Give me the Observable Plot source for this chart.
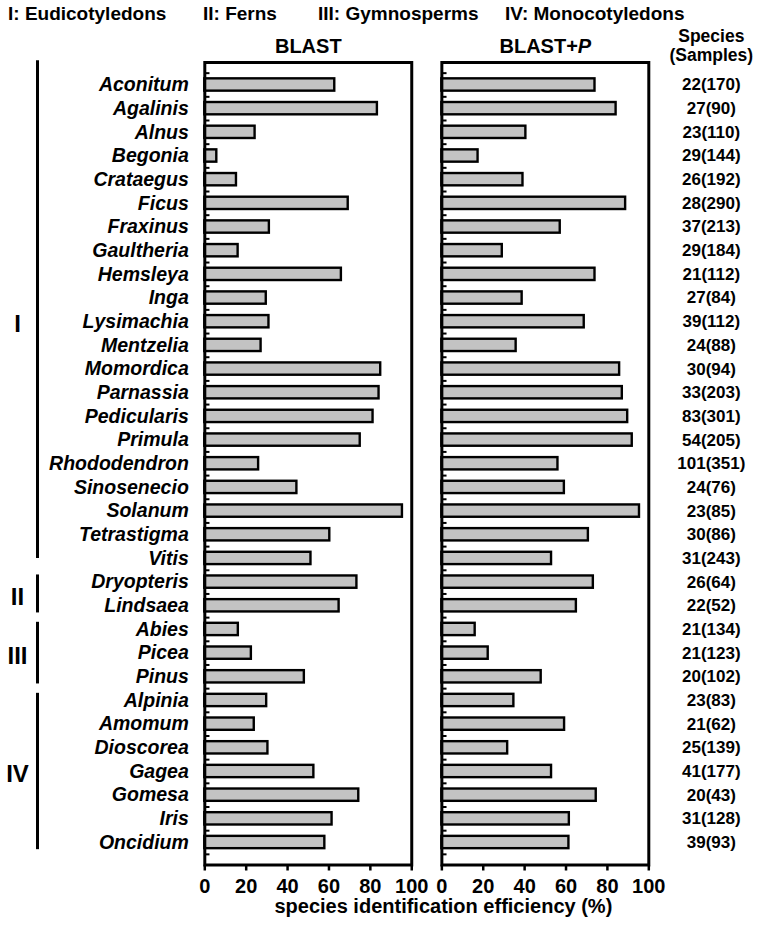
<!DOCTYPE html>
<html><head><meta charset="utf-8">
<script src="https://cdn.jsdelivr.net/npm/d3@7"></script>
<script src="https://cdn.jsdelivr.net/npm/@observablehq/plot@0.6"></script>
<style>
body{margin:0;background:#fff;font-family:"Liberation Sans",Arial,Helvetica,sans-serif;}
#legend{position:relative;height:30px;width:763px;font-weight:bold;font-size:19px;color:#000;}
#legend span{position:absolute;top:3px;white-space:nowrap;}
</style></head><body>
<div id="legend"></div>
<div id="chart"></div>
<script>
const genera = ["Aconitum","Agalinis","Alnus","Begonia","Crataegus","Ficus","Fraxinus","Gaultheria","Hemsleya","Inga","Lysimachia","Mentzelia","Momordica","Parnassia","Pedicularis","Primula","Rhododendron","Sinosenecio","Solanum","Tetrastigma","Vitis","Dryopteris","Lindsaea","Abies","Picea","Pinus","Alpinia","Amomum","Dioscorea","Gagea","Gomesa","Iris","Oncidium"];
const blast = [62.8,83.4,24.3,5.8,15.3,69.3,31.2,16.1,66.0,29.7,31.0,27.2,85.0,84.2,81.3,75.1,26.0,44.5,95.5,60.4,51.3,73.5,64.9,16.2,22.5,48.1,29.9,23.9,30.5,52.7,74.4,61.5,58.0];
const blastP = [74.0,84.2,40.6,17.5,39.2,88.8,57.2,29.2,74.0,38.8,68.8,35.9,85.9,87.2,89.8,92.0,56.1,59.2,95.5,70.8,53.0,73.2,65.0,16.1,22.4,48.0,34.8,59.3,31.8,53.0,74.6,61.6,61.4];
const species = [22,27,23,29,26,28,37,29,21,27,39,24,30,33,83,54,101,24,23,30,31,26,22,21,21,20,23,21,25,41,20,31,39];
const samples = [170,90,110,144,192,290,213,184,112,84,112,88,94,203,301,205,351,76,85,86,243,64,52,134,123,102,83,62,139,177,43,128,93];
const methods = ["BLAST","BLAST+P"];
const groupLabels = ["I","II","III","IV"];
const groupNames = ["Eudicotyledons","Ferns","Gymnosperms","Monocotyledons"];
const groupFirst = ["Aconitum","Dryopteris","Abies","Alpinia"];
const groupLast = ["Vitis","Lindsaea","Pinus","Oncidium"];
const xTicks = [0,20,40,60,80,100];
const xLabel = "species identification efficiency (%)";
const colHeader = ["Species","(Samples)"];

// legend line (above the SVG)
const legendX = [8, 203, 318, 505];
const legend = document.getElementById("legend");
groupLabels.forEach((g,i)=>{
  const s=document.createElement("span");
  s.textContent = `${g}: ${groupNames[i]}`;
  s.style.left = legendX[i]+"px";
  legend.appendChild(s);
});

const rows = genera.flatMap((g,i)=>[
  {genus:g, method:methods[0], value:blast[i]},
  {genus:g, method:methods[1], value:blastP[i]}
]);
const leftRows = genera.map((g)=>({genus:g, method:methods[0]}));
const rightRows = genera.map((g,i)=>({genus:g, method:methods[1], text:`${species[i]}(${samples[i]})`}));
const groups = groupLabels.map((g,i)=>{
  const a = genera.indexOf(groupFirst[i]), b = genera.indexOf(groupLast[i]);
  const mid = (a+b)/2;
  return {label:g, first:groupFirst[i], last:groupLast[i], mid:genera[Math.floor(mid)], half: mid%1!==0, method:methods[0]};
});

const W=763, H=898, mTop=32, mBottom=63.5, mLeft=204.3, mRight=114.7;
const pi=0.48, po=0.69;
const step = (H-mTop-mBottom)/(genera.length - pi + 2*po);

const chart = Plot.plot({
  width: W, height: H,
  marginTop: mTop, marginBottom: mBottom, marginLeft: mLeft, marginRight: mRight,
  style: {fontFamily: "'Liberation Sans', Arial, Helvetica, sans-serif", fontWeight: "bold", color: "black", background: "white", overflow: "visible"},
  fx: {domain: methods, paddingInner: 0.127, paddingOuter: 0, round: false, axis: null, label: null},
  x: {domain: [0,100]},
  y: {domain: genera, paddingInner: pi, paddingOuter: po, round: false, axis: null, label: null},
  marks: [
    Plot.barX(rows, {fx:"method", y:"genus", x:"value", fill:"#c3c3c3", stroke:"black", strokeWidth:2.4}),
    Plot.ruleY(rows, {fx:"method", y:"genus", x1:0, x2:2.5, dy:-step/2, strokeWidth:2}),
    Plot.ruleY(rows.filter(d=>d.genus===genera[genera.length-1]), {fx:"method", y:"genus", x1:0, x2:2.5, dy:step/2, strokeWidth:2}),
    Plot.frame({stroke:"black", strokeWidth:3}),
    Plot.axisX({ticks:xTicks, tickSize:6, tickPadding:8, strokeWidth:2.5, fontSize:20, fontWeight:"bold", label:null}),
    // panel headers
    Plot.text(methods.map(m=>({method:m})), {fx:"method", text:"method", frameAnchor:"top", lineAnchor:"bottom", dy:-10, fontSize:20}),
    // genus labels
    Plot.text(leftRows, {fx:"method", y:"genus", text:"genus", frameAnchor:"left", textAnchor:"end", dx:-16, fontSize:19.5, fontStyle:"italic"}),
    // species(samples)
    Plot.text(rightRows, {fx:"method", y:"genus", text:"text", frameAnchor:"right", textAnchor:"middle", dx:62.5, fontSize:17}),
    Plot.text([{method:methods[1]}], {fx:"method", text:()=>colHeader[0], frameAnchor:"top-right", textAnchor:"middle", lineAnchor:"bottom", dx:62.5, dy:-21, fontSize:17.5}),
    Plot.text([{method:methods[1]}], {fx:"method", text:()=>colHeader[1], frameAnchor:"top-right", textAnchor:"middle", lineAnchor:"bottom", dx:62.5, dy:-2, fontSize:17.5}),
    // group rules and labels
    Plot.ruleX(groups.slice(0,1), {fx:"method", y1:"first", y2:"last", x:()=>0, dx:-167.3, strokeWidth:3, insetTop:-18, insetBottom:6}),
    Plot.ruleX(groups.slice(1), {fx:"method", y1:"first", y2:"last", x:()=>0, dx:-167.3, strokeWidth:3, insetTop:-1, insetBottom:-1}),
    Plot.text(groups.filter(d=>!d.half), {fx:"method", y:"mid", text:"label", frameAnchor:"left", textAnchor:"middle", dx:-187.3, dy:3, fontSize:24}),
    Plot.text(groups.filter(d=>d.half), {fx:"method", y:"mid", text:"label", frameAnchor:"left", textAnchor:"middle", dx:-187.3, dy:step/2+3, fontSize:24}),
    // x axis title
    Plot.text([{method:methods[1]}], {fx:"method", text:()=>xLabel, frameAnchor:"bottom-left", textAnchor:"middle", lineAnchor:"middle", dx:1.5, dy:42, fontSize:20})
  ]
});
document.getElementById("chart").appendChild(chart);
// italic P in the second header
d3.select(chart).selectAll("text").each(function(){
  if (this.textContent === "BLAST+P") {
    this.textContent = "BLAST+";
    d3.select(this).append("tspan").attr("font-style","italic").text("P");
  }
});
</script>
</body></html>
